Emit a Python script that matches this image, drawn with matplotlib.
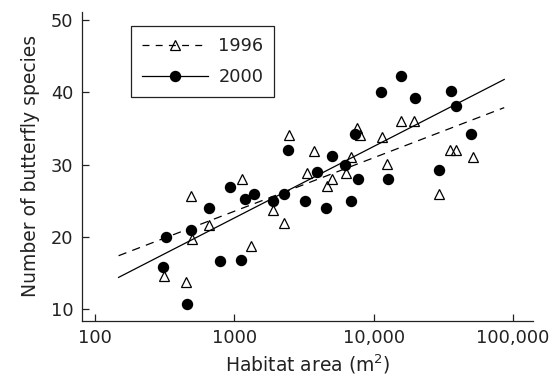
import matplotlib
matplotlib.use("Agg")
import matplotlib.pyplot as plt
from matplotlib.lines import Line2D
from matplotlib.ticker import FixedLocator, FixedFormatter, NullLocator

plt.rcParams['font.family'] = ['DejaVu Sans']
plt.rcParams['mathtext.default'] = 'regular'
plt.rcParams['lines.scale_dashes'] = False

# 1996 survey (open triangles)
area_1996 = [312, 454, 490, 499, 664, 1138, 1325, 1891, 2281, 2460, 3335, 3707,
             4625, 4991, 6342, 6924, 7556, 8011, 11510, 12480, 15680, 19440,
             29500, 35570, 39020, 51650]
species_1996 = [14.6, 13.7, 25.7, 19.7, 21.7, 28.0, 18.8, 23.7, 21.9, 34.1, 28.9, 31.9,
                27.0, 28.0, 28.9, 31.0, 35.1, 34.1, 33.9, 30.1, 36.0, 36.0,
                26.0, 32.1, 32.1, 31.0]

# 2000 survey (filled circles)
area_2000 = [326, 310, 459, 493, 661, 787, 933, 1117, 1191, 1387, 1891, 2266, 2445,
             3220, 3903, 4517, 4991, 6267, 6843, 7336, 7780, 11380, 12650, 15680,
             19820, 29500, 36160, 39020, 50200]
species_2000 = [20.0, 15.8, 10.7, 21.0, 24.0, 16.7, 26.9, 16.8, 25.2, 25.9, 25.0, 25.9, 32.0,
                25.0, 29.0, 24.0, 31.2, 29.9, 25.0, 34.2, 28.0, 40.1, 28.0, 42.3,
                39.2, 29.2, 40.2, 38.1, 34.3]

# fitted regression lines (end points)
fit_area = [148, 86500]
fit_1996 = [17.4, 37.9]
fit_2000 = [14.4, 41.8]

xticks = [100, 1000, 10000, 100000]
xtick_labels = ['100', '1000', '10,000', '100,000']
yticks = [10, 20, 30, 40, 50]

ink = '#222222'

fig = plt.figure(figsize=(5.55, 3.82), dpi=100)
ax = fig.add_axes([0.147, 0.160, 0.813, 0.809])

ax.plot(fit_area, fit_1996, color='black', lw=0.9, dashes=(6, 4.5))
ax.plot(fit_area, fit_2000, color='black', lw=0.9)
ax.plot(area_2000, species_2000, 'o', color='black', ms=7.2, zorder=3)
ax.plot(area_1996, species_1996, '^', mfc='none', mec='black', mew=0.9, ms=7.5, zorder=4)

ax.set_xscale('log')
ax.set_xlim(80.3, 138700)
ax.set_ylim(8.38, 51.16)
ax.xaxis.set_major_locator(FixedLocator(xticks))
ax.xaxis.set_major_formatter(FixedFormatter(xtick_labels))
ax.xaxis.set_minor_locator(NullLocator())
ax.set_yticks(yticks)
ax.tick_params(direction='in', length=5, width=0.9, labelsize=12.8, pad=6, colors=ink)

for side in ['top', 'right']:
    ax.spines[side].set_visible(False)
for side in ['left', 'bottom']:
    ax.spines[side].set_linewidth(0.9)
    ax.spines[side].set_color(ink)

ax.set_xlabel('Habitat area (m$^2$)', fontsize=13.5, labelpad=4, color=ink)
ax.set_ylabel('Number of butterfly species', fontsize=13.5, labelpad=8, color=ink)

# legend: line + marker proxies
handles = [
    Line2D([], [], color='black', lw=0.9, dashes=(5, 4.5), marker='^', mfc='none',
           mec='black', mew=0.9, ms=7.5),
    Line2D([], [], color='black', lw=0.9, marker='o', ms=7.2),
]
leg = ax.legend(handles, ['1996', '2000'], loc='upper left', bbox_to_anchor=(0.110, 0.954),
                fontsize=12.8, numpoints=1, handlelength=3.7, handletextpad=0.6,
                borderpad=0.6, labelspacing=0.75, fancybox=False, framealpha=1,
                edgecolor=ink, borderaxespad=0)
leg.get_frame().set_linewidth(0.9)
for t in leg.get_texts():
    t.set_color(ink)

fig.savefig('out.png', dpi=100)
